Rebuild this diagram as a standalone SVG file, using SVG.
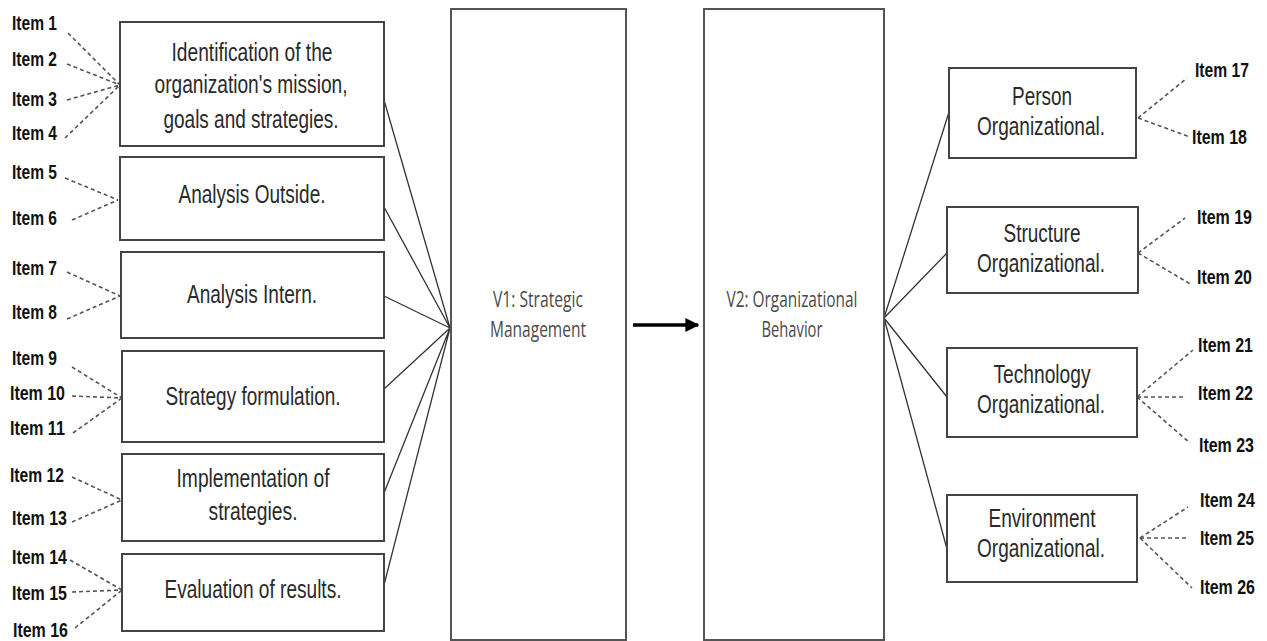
<svg xmlns="http://www.w3.org/2000/svg" width="1267" height="641" viewBox="0 0 1267 641">
<defs>
<style>
.box{fill:#fff;stroke:#444;stroke-width:2}
.big{fill:#fff;stroke:#555;stroke-width:2}
.bt{font-family:"Liberation Sans",Arial,sans-serif;font-size:25px;fill:#2a2a2a;text-anchor:middle}
.it{font-family:"Liberation Sans",Arial,sans-serif;font-size:20px;font-weight:bold;fill:#111}
.vt{font-family:"Open Sans","Noto Sans",sans-serif;font-size:22px;fill:#4a4a4a;text-anchor:middle}
.dash{fill:none;stroke:#555;stroke-width:1.6;stroke-dasharray:4 3}
.sol{fill:none;stroke:#333;stroke-width:1.3}
</style>
<marker id="ah" viewBox="0 0 10 10" refX="9" refY="5" markerWidth="4" markerHeight="4" orient="auto" markerUnits="strokeWidth"><path d="M0,0 L10,5 L0,10 z" fill="#000"/></marker>
</defs>
<rect width="1267" height="641" fill="#fff"/>

<g id="connectors">
<g class="sol">
<path d="M384,100 L450,328 M384,207 L450,328 M384,296 L450,328 M384,389 L450,328 M384,493 L450,328 M384,585 L450,328"/>
<path d="M884,318 L949,112 M884,318 L947,253 M884,318 L947,397 M884,318 L947,549"/>
</g>
<g class="dash">
<path d="M68,33 L120,85 M67,64 L120,85 M67,100 L120,85 M65,138 L120,85"/>
<path d="M65,178 L118,200 M72,220 L118,200"/>
<path d="M67,272 L120,296 M67,319 L120,296"/>
<path d="M72,367 L122,398 M72,396 L122,398 M73,433 L122,398"/>
<path d="M72,477 L122,500 M72,522 L122,500"/>
<path d="M70,560 L122,590 M72,592 L122,590 M75,628 L122,590"/>
<path d="M1138,118 L1187,78 M1138,118 L1190,137"/>
<path d="M1138,253 L1185,218 M1138,253 L1192,285"/>
<path d="M1137,397 L1193,350 M1137,397 L1185,397 M1137,397 L1190,443"/>
<path d="M1140,538 L1188,507 M1140,538 L1188,538 M1140,538 L1192,588"/>
</g>
<line x1="633" y1="325" x2="698" y2="325" stroke="#000" stroke-width="3.5" marker-end="url(#ah)"/>
</g>

<g id="v1"><rect class="big" x="451" y="9" width="175" height="631"/>
<text class="vt" x="538" y="307" textLength="90" lengthAdjust="spacingAndGlyphs">V1: Strategic</text>
<text class="vt" x="538" y="337" textLength="96" lengthAdjust="spacingAndGlyphs">Management</text></g>
<g id="v2"><rect class="big" x="704" y="9" width="180" height="631"/>
<text class="vt" x="792" y="307" textLength="131" lengthAdjust="spacingAndGlyphs">V2: Organizational</text>
<text class="vt" x="792" y="337" textLength="61" lengthAdjust="spacingAndGlyphs">Behavior</text></g>

<g id="n1"><rect class="box" x="120" y="22" width="264" height="124"/>
<text class="bt" x="252" y="61" textLength="161" lengthAdjust="spacingAndGlyphs">Identification of the</text>
<text class="bt" x="251" y="93" textLength="193" lengthAdjust="spacingAndGlyphs">organization's mission,</text>
<text class="bt" x="251" y="128" textLength="175" lengthAdjust="spacingAndGlyphs">goals and strategies.</text></g>
<g id="n2"><rect class="box" x="120" y="157" width="264" height="83"/>
<text class="bt" x="252" y="203" textLength="147" lengthAdjust="spacingAndGlyphs">Analysis Outside.</text></g>
<g id="n3"><rect class="box" x="121" y="252" width="263" height="86"/>
<text class="bt" x="252" y="303" textLength="130" lengthAdjust="spacingAndGlyphs">Analysis Intern.</text></g>
<g id="n4"><rect class="box" x="122" y="351" width="262" height="91"/>
<text class="bt" x="253" y="405" textLength="175" lengthAdjust="spacingAndGlyphs">Strategy formulation.</text></g>
<g id="n5"><rect class="box" x="122" y="454" width="262" height="87"/>
<text class="bt" x="253" y="487" textLength="153" lengthAdjust="spacingAndGlyphs">Implementation of</text>
<text class="bt" x="253" y="520" textLength="89" lengthAdjust="spacingAndGlyphs">strategies.</text></g>
<g id="n6"><rect class="box" x="122" y="554" width="262" height="77"/>
<text class="bt" x="253" y="598" textLength="177" lengthAdjust="spacingAndGlyphs">Evaluation of results.</text></g>

<g id="r1"><rect class="box" x="949" y="68" width="187" height="90"/>
<text class="bt" x="1042" y="105" textLength="60" lengthAdjust="spacingAndGlyphs">Person</text>
<text class="bt" x="1041" y="135" textLength="128" lengthAdjust="spacingAndGlyphs">Organizational.</text></g>
<g id="r2"><rect class="box" x="947" y="207" width="191" height="86"/>
<text class="bt" x="1042" y="242" textLength="77" lengthAdjust="spacingAndGlyphs">Structure</text>
<text class="bt" x="1041" y="272" textLength="128" lengthAdjust="spacingAndGlyphs">Organizational.</text></g>
<g id="r3"><rect class="box" x="947" y="348" width="190" height="89"/>
<text class="bt" x="1042" y="383" textLength="97" lengthAdjust="spacingAndGlyphs">Technology</text>
<text class="bt" x="1041" y="413" textLength="128" lengthAdjust="spacingAndGlyphs">Organizational.</text></g>
<g id="r4"><rect class="box" x="947" y="495" width="190" height="87"/>
<text class="bt" x="1042" y="527" textLength="107" lengthAdjust="spacingAndGlyphs">Environment</text>
<text class="bt" x="1041" y="557" textLength="128" lengthAdjust="spacingAndGlyphs">Organizational.</text></g>

<g id="items">
<text class="it" x="12" y="30" textLength="45" lengthAdjust="spacingAndGlyphs">Item 1</text>
<text class="it" x="12" y="66" textLength="45" lengthAdjust="spacingAndGlyphs">Item 2</text>
<text class="it" x="12" y="106" textLength="45" lengthAdjust="spacingAndGlyphs">Item 3</text>
<text class="it" x="12" y="140" textLength="45" lengthAdjust="spacingAndGlyphs">Item 4</text>
<text class="it" x="12" y="179" textLength="45" lengthAdjust="spacingAndGlyphs">Item 5</text>
<text class="it" x="12" y="225" textLength="45" lengthAdjust="spacingAndGlyphs">Item 6</text>
<text class="it" x="12" y="275" textLength="45" lengthAdjust="spacingAndGlyphs">Item 7</text>
<text class="it" x="12" y="319" textLength="45" lengthAdjust="spacingAndGlyphs">Item 8</text>
<text class="it" x="12" y="365" textLength="45" lengthAdjust="spacingAndGlyphs">Item 9</text>
<text class="it" x="10" y="400" textLength="55" lengthAdjust="spacingAndGlyphs">Item 10</text>
<text class="it" x="10" y="435" textLength="55" lengthAdjust="spacingAndGlyphs">Item 11</text>
<text class="it" x="10" y="482" textLength="54" lengthAdjust="spacingAndGlyphs">Item 12</text>
<text class="it" x="12" y="525" textLength="55" lengthAdjust="spacingAndGlyphs">Item 13</text>
<text class="it" x="12" y="564" textLength="55" lengthAdjust="spacingAndGlyphs">Item 14</text>
<text class="it" x="12" y="600" textLength="55" lengthAdjust="spacingAndGlyphs">Item 15</text>
<text class="it" x="13" y="637" textLength="55" lengthAdjust="spacingAndGlyphs">Item 16</text>
<text class="it" x="1195" y="77" textLength="54" lengthAdjust="spacingAndGlyphs">Item 17</text>
<text class="it" x="1192" y="144" textLength="55" lengthAdjust="spacingAndGlyphs">Item 18</text>
<text class="it" x="1197" y="224" textLength="55" lengthAdjust="spacingAndGlyphs">Item 19</text>
<text class="it" x="1197" y="284" textLength="55" lengthAdjust="spacingAndGlyphs">Item 20</text>
<text class="it" x="1198" y="352" textLength="55" lengthAdjust="spacingAndGlyphs">Item 21</text>
<text class="it" x="1198" y="400" textLength="55" lengthAdjust="spacingAndGlyphs">Item 22</text>
<text class="it" x="1199" y="452" textLength="55" lengthAdjust="spacingAndGlyphs">Item 23</text>
<text class="it" x="1200" y="507" textLength="55" lengthAdjust="spacingAndGlyphs">Item 24</text>
<text class="it" x="1200" y="545" textLength="54" lengthAdjust="spacingAndGlyphs">Item 25</text>
<text class="it" x="1200" y="594" textLength="55" lengthAdjust="spacingAndGlyphs">Item 26</text>
</g>
</svg>
